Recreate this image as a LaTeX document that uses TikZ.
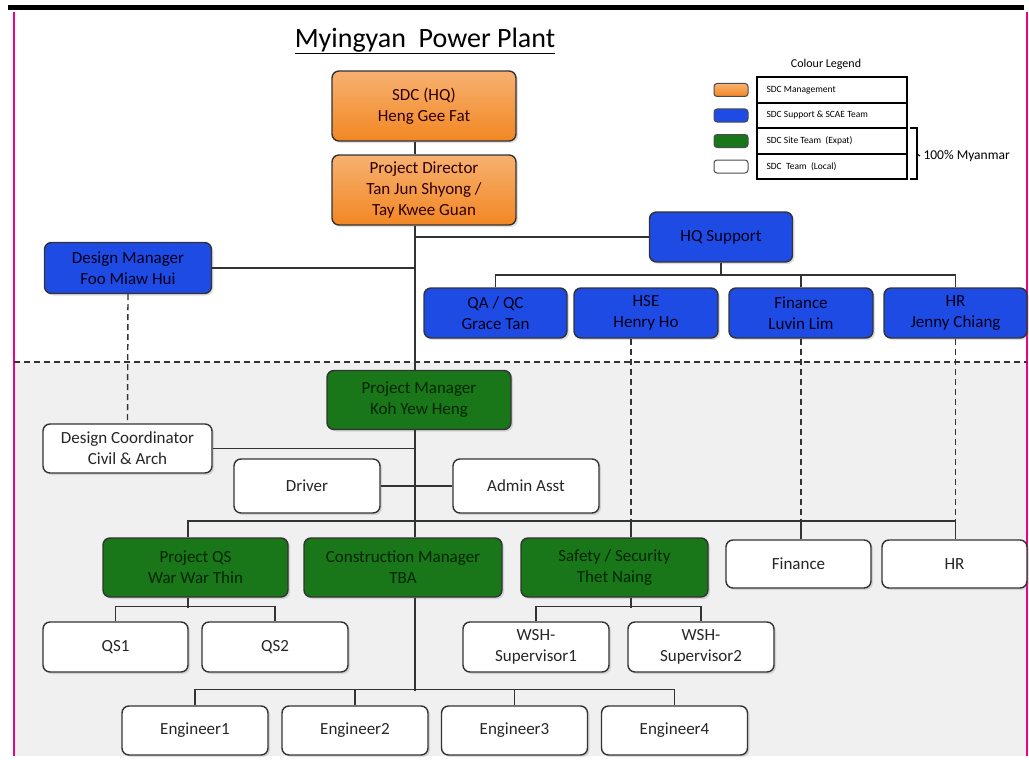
\documentclass[tikz,border=0pt]{standalone}
\usepackage{fontspec}
\setmainfont{Carlito}
\usetikzlibrary{shadows}

\definecolor{mgmt}{RGB}{242,135,35}
\definecolor{supp}{RGB}{30,75,228}
\definecolor{site}{RGB}{25,118,25}
\definecolor{zone}{RGB}{240,240,240}

\begin{document}
\begin{tikzpicture}[x=1pt,y=-1pt,
    box/.style={draw=black!80,line width=1.4pt,rounded corners=7pt,align=center,
      font=\fontsize{17}{21}\selectfont,inner sep=0pt,
      drop shadow={shadow xshift=2pt,shadow yshift=-2pt,opacity=0.25}},
    orangebox/.style={box,top color=mgmt!65!white,bottom color=mgmt,text=black!70!red!60!black},
    bluebox/.style={box,fill=supp,text=black!90!blue},
    greenbox/.style={box,fill=site,text=black!85!green},
    whitebox/.style={box,fill=white,text=black!85},
    link/.style={line width=1.6pt,black!80},
    dotted link/.style={line width=1.4pt,black!80,dash pattern=on 6pt off 4pt},
    swatch/.style={draw=black!70,line width=1pt,rounded corners=3pt,minimum width=34pt,minimum height=13pt,inner sep=0pt}]
  \useasboundingbox (0,0) rectangle (1029,760);

  % frame and site area
  \fill [zone] (14,362) rectangle (1027,756);
  \fill [black] (8,5) rectangle (1024,10);
  \draw [magenta,line width=1.2pt] (14,12) -- (14,756);
  \draw [magenta,line width=1.2pt] (1027,12) -- (1027,756);
  \draw [dotted link] (14,362) -- (1027,362);

  \node (title) at (425,41) {\fontsize{28}{30}\selectfont\underline{Myingyan\ \ Power Plant}};

  % legend
  \node (leghead) at (826,64) {\fontsize{12}{13}\selectfont Colour Legend};
  \draw [line width=1.2pt] (757,77) rectangle (907,179);
  \foreach \y in {103,128,154} \draw [line width=1.2pt] (757,\y) -- (907,\y);
  \node [swatch,top color=mgmt!65!white,bottom color=mgmt] (sw1) at (731,90) {};
  \node [swatch,fill=supp] (sw2) at (731,115.5) {};
  \node [swatch,fill=site] (sw3) at (731,141) {};
  \node [swatch,fill=white] (sw4) at (731,166.5) {};
  \node [anchor=west,font=\fontsize{9.5}{10}\selectfont] (lg1) at (763,90) {SDC Management};
  \node [anchor=west,font=\fontsize{9.5}{10}\selectfont] (lg2) at (763,115.5) {SDC Support \& SCAE Team};
  \node [anchor=west,font=\fontsize{9.5}{10}\selectfont] (lg3) at (763,141) {SDC Site Team\ \ (Expat)};
  \node [anchor=west,font=\fontsize{9.5}{10}\selectfont] (lg4) at (763,166.5) {SDC\ \ Team\ \ (Local)};
  \draw [line width=1.2pt] (910,128) -- (917,128) -- (917,179) -- (910,179);
  \node [anchor=west,font=\fontsize{13.5}{14}\selectfont] (local) at (920,156) {100\% Myanmar};
  \draw [line width=1.2pt] (917,154) -- (local.west);

  % HQ side
  \node [orangebox,minimum width=184pt,minimum height=70pt] (sdc) at (424,106) {SDC (HQ)\\Heng Gee Fat};
  \node [orangebox,minimum width=184pt,minimum height=70pt] (pd) at (424,190) {Project Director\\Tan Jun Shyong /\\Tay Kwee Guan};
  \node [bluebox,minimum width=143pt,minimum height=50pt] (hqs) at (721,237) {HQ Support};
  \node [bluebox,minimum width=167pt,minimum height=51pt] (dm) at (128,268) {Design Manager\\Foo Miaw Hui};
  \node [bluebox,minimum width=143pt,minimum height=50pt] (qa) at (495.5,313) {QA / QC\\Grace Tan};
  \node [bluebox,minimum width=144pt,minimum height=50pt] (hse) at (646,313) {HSE\\Henry Ho};
  \node [bluebox,minimum width=144pt,minimum height=50pt] (fin) at (801,313) {Finance\\Luvin Lim};
  \node [bluebox,minimum width=143pt,minimum height=50pt] (hr) at (955.5,313) {HR\\Jenny Chiang};

  % site
  \node [greenbox,minimum width=184pt,minimum height=59pt] (pm) at (419,400) {Project Manager\\Koh Yew Heng};
  \node [whitebox,minimum width=169pt,minimum height=49pt] (dc) at (127.5,448.5) {Design Coordinator\\Civil \& Arch};
  \node [whitebox,minimum width=146pt,minimum height=54pt] (drv) at (307,486) {Driver};
  \node [whitebox,minimum width=146pt,minimum height=54pt] (adm) at (526,486) {Admin Asst};
  \node [greenbox,minimum width=185pt,minimum height=59pt] (pqs) at (195.5,567.5) {Project QS\\War War Thin};
  \node [greenbox,minimum width=198pt,minimum height=59pt] (cm) at (403,567.5) {Construction Manager\\TBA};
  \node [greenbox,minimum width=187pt,minimum height=59pt] (ss) at (614.5,567.5) {Safety / Security\\Thet Naing};
  \node [whitebox,minimum width=145pt,minimum height=48pt] (fin2) at (798.5,564) {Finance};
  \node [whitebox,minimum width=145pt,minimum height=48pt] (hr2) at (954.5,564) {HR};
  \node [whitebox,minimum width=145pt,minimum height=50pt] (qs1) at (115.5,647) {QS1};
  \node [whitebox,minimum width=146pt,minimum height=50pt] (qs2) at (275,647) {QS2};
  \node [whitebox,minimum width=146pt,minimum height=50pt] (wsh1) at (536,647) {WSH-\\Supervisor1};
  \node [whitebox,minimum width=146pt,minimum height=50pt] (wsh2) at (701,647) {WSH-\\Supervisor2};
  \node [whitebox,minimum width=146pt,minimum height=49pt] (e1) at (195,730.5) {Engineer1};
  \node [whitebox,minimum width=146pt,minimum height=49pt] (e2) at (355,730.5) {Engineer2};
  \node [whitebox,minimum width=146pt,minimum height=49pt] (e3) at (514.5,730.5) {Engineer3};
  \node [whitebox,minimum width=146pt,minimum height=49pt] (e4) at (674.5,730.5) {Engineer4};

  \coordinate (spine) at (415,0);
  \coordinate (hsex) at (631,0);
  \coordinate (hqbus) at (0,275);
  \coordinate (sitebus) at (0,521);

  % connectors
  \draw [link] (sdc.south -| spine) -- (pd.north -| spine);
  \draw [link] (pd.south -| spine) -- (pm.north -| spine);
  \draw [link] (pm.south -| spine) -- (cm.north -| spine);
  \draw [link] (dm.east) -- (dm.east -| spine);
  \draw [link] (hqs.west) -- (hqs.west -| spine);
  \draw [link] (hqs.south) -- (hqs.south |- hqbus);
  \draw [link] (qa.north) -- (qa.north |- hqbus) -- (hqbus -| hr.north) -- (hr.north);
  \draw [link] (hse.north -| hsex) -- (hse.north -| hsex |- hqbus);
  \draw [link] (fin.north) -- (fin.north |- hqbus);
  \draw [dotted link] (dm.south) -- (dc.north);
  \draw [link] (dc.east) -- (dc.east -| spine);
  \draw [link] (drv.east) -- (adm.west);

  \draw [dotted link] (hse.south -| hsex) -- (sitebus -| hsex);
  \draw [dotted link] (fin.south) -- (sitebus -| fin.south);
  \draw [dotted link] (hr.south) -- (sitebus -| hr.south);
  \draw [link] (pqs.north -| 188,0) -- (sitebus -| 188,0) -- (sitebus -| hr.south) -- (hr2.north -| hr.south);
  \draw [link] (sitebus -| hsex) -- (ss.north -| hsex);
  \draw [link] (sitebus -| fin.south) -- (fin2.north -| fin.south);

  \draw [link] (pqs.south -| 188,0) -- ++(0,10);
  \draw [link] (qs1.north) -- ++(0,-15) -| (qs2.north);
  \draw [link] (ss.south -| hsex) -- ++(0,10);
  \draw [link] (wsh1.north) -- ++(0,-15) -| (wsh2.north);
  \draw [link] (cm.south -| spine) -- ++(0,93);
  \draw [link] (e1.north) -- ++(0,-16) -| (e4.north);
  \draw [link] (e2.north) -- ++(0,-16);
  \draw [link] (e3.north) -- ++(0,-16);
\end{tikzpicture}
\end{document}
